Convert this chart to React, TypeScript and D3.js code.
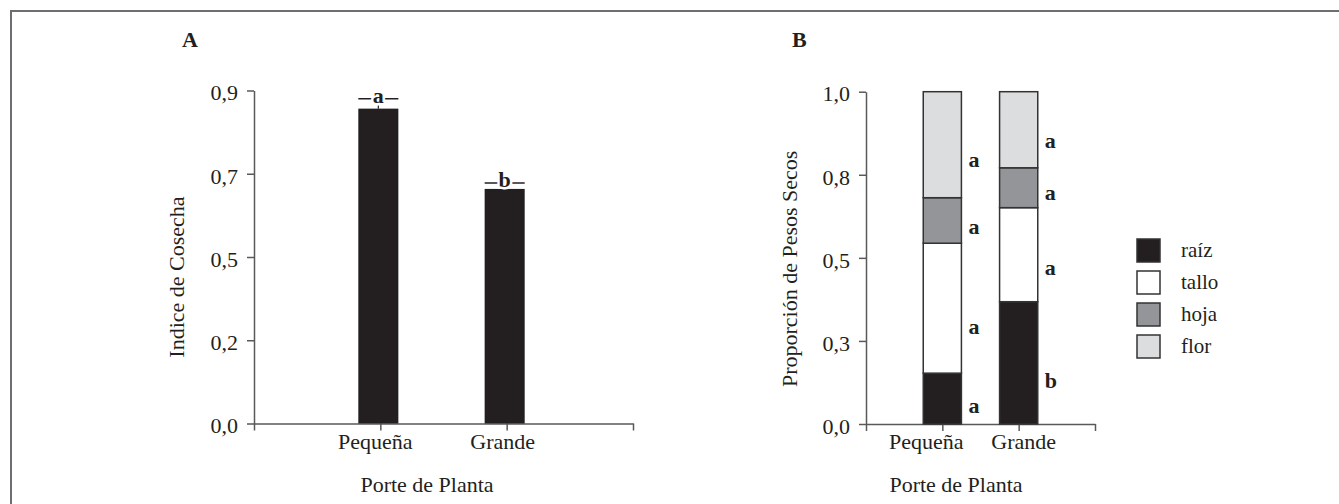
import React, { useEffect, useRef } from "react";
import * as d3 from "d3";

// panel A: harvest index by plant size
const sizes = ["Pequeña", "Grande"];
const harvestIndex = [0.851, 0.634];
const harvestErr = [0.027, 0.016];
const harvestLetters = ["a", "b"];
const harvestTicks = [0, 0.225, 0.45, 0.675, 0.9];
const harvestTickLabels = ["0,0", "0,2", "0,5", "0,7", "0,9"];

// panel B: dry weight proportions
const organs = ["raíz", "tallo", "hoja", "flor"];
const raiz = [0.153, 0.368];
const tallo = [0.391, 0.283];
const hoja = [0.137, 0.12];
const flor = [0.319, 0.229];
const raizLetters = ["a", "b"];
const talloLetters = ["a", "a"];
const hojaLetters = ["a", "a"];
const florLetters = ["a", "a"];
const propTicks = [0, 0.25, 0.5, 0.75, 1];
const propTickLabels = ["0,0", "0,3", "0,5", "0,8", "1,0"];

const W = 1339;
const H = 504;
const FONT = "'Liberation Serif', 'DejaVu Serif', serif";
const INK = "#231f20";
const AXIS = "#58595b";
const fills = ["#231f20", "#ffffff", "#939598", "#dcdddf"];

function styleAxis(g: any) {
  g.attr("font-size", 22).attr("color", AXIS).style("font-family", FONT);
  g.selectAll("path,line").attr("stroke-width", 1.5);
  g.selectAll("text").attr("fill", INK);
}

function App() {
  const ref = useRef<SVGSVGElement>(null);

  useEffect(() => {
    const svg = d3.select(ref.current);
    svg.selectAll("*").remove();

    // frame
    svg
      .append("path")
      .attr("d", `M11,${H} V11 H${W}`)
      .attr("fill", "none")
      .attr("stroke", "#6d6e71")
      .attr("stroke-width", 2);

    // ---------- Panel A ----------
    const xA = d3.scaleLinear().domain([0, 3]).range([254, 633]);
    const yA = d3.scaleLinear().domain([0, 0.9]).range([423.5, 90.5]);
    const gA = svg.append("g");

    gA.append("g")
      .attr("transform", `translate(${xA(0)},0)`)
      .call(
        d3
          .axisLeft(yA)
          .tickValues(harvestTicks)
          .tickFormat((_d: any, i: number) => harvestTickLabels[i])
          .tickSize(7)
          .tickSizeOuter(0)
          .tickPadding(9) as any
      )
      .call(styleAxis)
      .call((g: any) => g.selectAll("text").attr("dy", "0.42em"));

    gA.append("g")
      .attr("transform", `translate(0,${yA(0)})`)
      .call(
        d3
          .axisBottom(xA)
          .tickValues([0, 1, 2, 3])
          .tickFormat(() => "")
          .tickSize(7)
          .tickSizeOuter(0) as any
      )
      .call(styleAxis);

    const bwA = xA(0.317) - xA(0);
    gA.selectAll(".bar")
      .data(harvestIndex)
      .join("rect")
      .attr("class", "bar")
      .attr("x", (_d: number, i: number) => xA(i + 1) - bwA / 2 - 2)
      .attr("width", bwA)
      .attr("y", (d: number) => yA(d))
      .attr("height", (d: number) => yA(0) - yA(d))
      .attr("fill", INK);

    harvestIndex.forEach((v, i) => {
      const cx = xA(i + 1) - 2;
      const capY = yA(v + harvestErr[i]);
      gA.append("line")
        .attr("x1", cx)
        .attr("x2", cx)
        .attr("y1", yA(v))
        .attr("y2", capY)
        .attr("stroke", INK)
        .attr("stroke-width", 1.2);
      gA.append("line")
        .attr("x1", cx - bwA / 2)
        .attr("x2", cx + bwA / 2)
        .attr("y1", capY)
        .attr("y2", capY)
        .attr("stroke", INK)
        .attr("stroke-width", 1.5);
      gA.append("text")
        .attr("x", cx)
        .attr("y", capY + 4)
        .attr("text-anchor", "middle")
        .style("font-family", FONT)
        .attr("font-size", 22)
        .attr("font-weight", "bold")
        .attr("fill", INK)
        .attr("stroke", "#fff")
        .attr("stroke-width", 5)
        .attr("paint-order", "stroke")
        .text(harvestLetters[i]);
    });

    const catShiftA = [-5, -4];
    gA.selectAll(".cat")
      .data(sizes)
      .join("text")
      .attr("class", "cat")
      .attr("x", (_d: string, i: number) => xA(i + 1) + catShiftA[i])
      .attr("y", 449)
      .attr("text-anchor", "middle")
      .style("font-family", FONT)
      .attr("font-size", 22)
      .attr("fill", INK)
      .text((d: string) => d);

    gA.append("text")
      .attr("x", 427)
      .attr("y", 492)
      .attr("text-anchor", "middle")
      .style("font-family", FONT)
      .attr("font-size", 22)
      .attr("fill", INK)
      .text("Porte de Planta");

    gA.append("text")
      .attr("transform", `translate(${xA(0) - 70},${(yA(0) + yA(0.9)) / 2 + 20}) rotate(-90)`)
      .attr("text-anchor", "middle")
      .style("font-family", FONT)
      .attr("font-size", 22)
      .attr("fill", INK)
      .text("Indice de Cosecha");

    gA.append("text")
      .attr("x", 182)
      .attr("y", 47)
      .style("font-family", FONT)
      .attr("font-size", 22)
      .attr("font-weight", "bold")
      .attr("fill", INK)
      .text("A");

    // ---------- Panel B ----------
    const xB = d3.scaleLinear().domain([0, 3]).range([866, 1095]);
    const yB = d3.scaleLinear().domain([0, 1]).range([424, 91.7]);
    const gB = svg.append("g");

    gB.append("g")
      .attr("transform", `translate(${xB(0)},0)`)
      .call(
        d3
          .axisLeft(yB)
          .tickValues(propTicks)
          .tickFormat((_d: any, i: number) => propTickLabels[i])
          .tickSize(7)
          .tickSizeOuter(0)
          .tickPadding(9) as any
      )
      .call(styleAxis)
      .call((g: any) => g.selectAll("text").attr("dy", "0.42em"));

    gB.append("g")
      .attr("transform", `translate(0,${yB(0)})`)
      .call(
        d3
          .axisBottom(xB)
          .tickValues([0, 1, 2, 3])
          .tickFormat(() => "")
          .tickSize(7)
          .tickSizeOuter(0) as any
      )
      .call(styleAxis);

    const series = [raiz, tallo, hoja, flor];
    const letters = [raizLetters, talloLetters, hojaLetters, florLetters];
    const rows = sizes.map((s, i) => {
      const r: any = { size: s };
      organs.forEach((o, k) => (r[o] = series[k][i]));
      return r;
    });
    const stacked = d3.stack().keys(organs)(rows);
    const bwB = xB(0.5) - xB(0);

    stacked.forEach((layer: any, k: number) => {
      gB.selectAll(`.seg${k}`)
        .data(layer)
        .join("rect")
        .attr("class", `seg${k}`)
        .attr("x", (_d: any, i: number) => xB(i + 1) - bwB / 2)
        .attr("width", bwB)
        .attr("y", (d: any) => yB(d[1]))
        .attr("height", (d: any) => yB(d[0]) - yB(d[1]))
        .attr("fill", fills[k])
        .attr("stroke", "#333")
        .attr("stroke-width", 1.5);

      gB.selectAll(`.lab${k}`)
        .data(layer)
        .join("text")
        .attr("class", `lab${k}`)
        .attr("x", (_d: any, i: number) => xB(i + 1) + bwB / 2 + 7)
        .attr("y", (d: any) => yB(d[1]) + 0.65 * (yB(d[0]) - yB(d[1])))
        .attr("dy", "0.3em")
        .style("font-family", FONT)
        .attr("font-size", 22)
        .attr("font-weight", "bold")
        .attr("fill", INK)
        .text((_d: any, i: number) => letters[k][i]);
    });

    const catShiftB = [-16, 5];
    gB.selectAll(".cat")
      .data(sizes)
      .join("text")
      .attr("class", "cat")
      .attr("x", (_d: string, i: number) => xB(i + 1) + catShiftB[i])
      .attr("y", 449)
      .attr("text-anchor", "middle")
      .style("font-family", FONT)
      .attr("font-size", 22)
      .attr("fill", INK)
      .text((d: string) => d);

    gB.append("text")
      .attr("x", 956)
      .attr("y", 492)
      .attr("text-anchor", "middle")
      .style("font-family", FONT)
      .attr("font-size", 22)
      .attr("fill", INK)
      .text("Porte de Planta");

    gB.append("text")
      .attr("transform", `translate(${xB(0) - 69},${(yB(0) + yB(1)) / 2 + 11}) rotate(-90)`)
      .attr("text-anchor", "middle")
      .style("font-family", FONT)
      .attr("font-size", 22)
      .attr("fill", INK)
      .text("Proporción de Pesos Secos");

    gB.append("text")
      .attr("x", 792)
      .attr("y", 47)
      .style("font-family", FONT)
      .attr("font-size", 22)
      .attr("font-weight", "bold")
      .attr("fill", INK)
      .text("B");

    // legend
    const legend = gB
      .selectAll(".leg")
      .data(organs)
      .join("g")
      .attr("class", "leg")
      .attr("transform", (_d: string, i: number) => `translate(1137,${239 + i * 32})`);
    legend
      .append("rect")
      .attr("width", 23)
      .attr("height", 23)
      .attr("fill", (_d: string, i: number) => fills[i])
      .attr("stroke", "#333")
      .attr("stroke-width", 1.5);
    legend
      .append("text")
      .attr("x", 44)
      .attr("y", 11.5)
      .attr("dy", "0.32em")
      .style("font-family", FONT)
      .attr("font-size", 21)
      .attr("fill", INK)
      .text((d: string) => d);
  }, []);

  return (
    <svg
      ref={ref}
      width={W}
      height={H}
      style={{ position: "absolute", left: 0, top: 0, background: "#fff" }}
    />
  );
}

export default App;
